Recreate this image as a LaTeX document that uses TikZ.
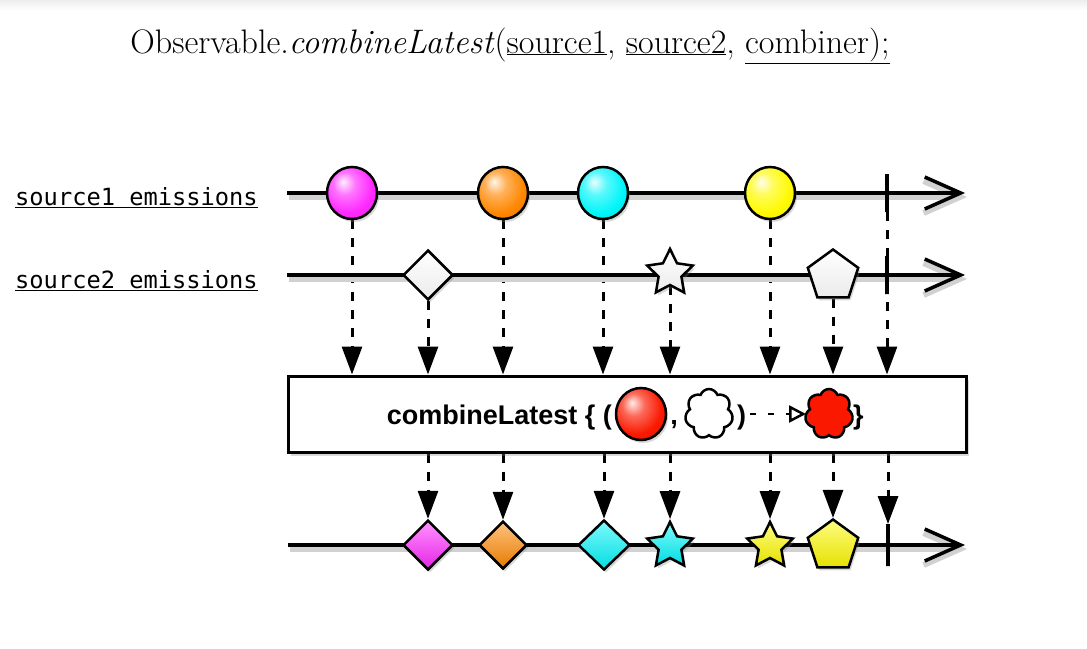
\documentclass[tikz,border=0pt]{standalone}
\usepackage{fontspec}
\newfontfamily\monofnt{DejaVu Sans Mono}
\newfontfamily\boxfnt{Liberation Sans}
\usetikzlibrary{shapes.geometric,shapes.symbols,arrows.meta,shadows}
\pgfdeclarelayer{bg}
\pgfsetlayers{bg,main}
\definecolor{cmag}{RGB}{255,40,255}
\definecolor{corange}{RGB}{255,135,0}
\definecolor{ccyan}{RGB}{0,245,250}
\definecolor{cyellow}{RGB}{255,250,0}
\definecolor{cred}{RGB}{250,25,0}
\makeatletter
\pgfdeclareradialshading[tikz@ball]{shinyball}{\pgfqpoint{-9bp}{11bp}}{%
  color(0bp)=(tikz@ball!8!white);
  color(11bp)=(tikz@ball!65!white);
  color(26bp)=(tikz@ball);
  color(45bp)=(tikz@ball!88!black);
  color(65bp)=(tikz@ball!70!black)}
\makeatother
\tikzset{
  shad/.style={drop shadow={shadow xshift=2pt,shadow yshift=-3pt,opacity=0.3}},
  ball/.style={ellipse, draw=black, line width=2.5pt, minimum width=50pt, minimum height=52pt, inner sep=0pt, shad},
  shiny/.style={ball color=#1, shading=shinyball},
  gem/.style={diamond, draw=black, line width=2.5pt, minimum width=50pt, minimum height=50pt, inner sep=0pt, shad},
  starshape/.style={star, star points=5, star point ratio=2.0, draw=black, line width=2.5pt, minimum size=48pt, inner sep=0pt, shad},
  penta/.style={regular polygon, regular polygon sides=5, draw=black, line width=2.5pt, minimum size=53pt, inner sep=0pt, shad},
  hollow/.style={top color=white, bottom color=black!8},
  tint/.style={top color=#1!50!white, bottom color=#1!90!black},
  endmark/.style={rectangle, draw=black, line width=3.5pt, minimum width=0pt, minimum height=38pt, inner sep=0pt, outer sep=0pt},
  timeline/.style={line width=3.5pt, -{Straight Barb[length=36pt,width=32pt]},
    preaction={draw=black!18, line width=6pt, transform canvas={xshift=2pt,yshift=-4pt}}},
  conn/.style={line width=3pt, dash pattern=on 9pt off 9pt, -{Triangle[length=28pt,width=20pt]}},
  fnbox/.style={rectangle, draw=black, line width=3pt, fill=white, minimum width=678pt, minimum height=76pt, inner sep=0pt,
    drop shadow={shadow xshift=3pt,shadow yshift=-4pt,opacity=0.3}},
  fntext/.style={font=\boxfnt\bfseries\fontsize{27}{30}\selectfont, inner sep=0pt},
  label/.style={font=\monofnt\fontsize{23.7}{28}\selectfont, inner sep=0pt, anchor=base west},
  cloudshape/.style={cloud, cloud puffs=7, cloud puff arc=140, aspect=1, draw=black, line width=2.5pt, minimum width=48pt, minimum height=50pt, inner sep=0pt}
}
\begin{document}
\begin{tikzpicture}[x=1pt,y=-1pt]
\useasboundingbox (0,0) rectangle (1087,648);
\fill[top color=black!7, bottom color=white] (0,0) rectangle (1087,10);

% title
\node[font=\fontsize{34}{40}\selectfont, anchor=base, inner sep=0pt] (title) at (510,53)
  {Observable.\textit{combineLatest}(\underline{source1}, \underline{source2}, \underline{combiner);}};

% labels
\node[label] (lab1) at (15,205) {\underline{source1 emissions}};
\node[label] (lab2) at (15,288) {\underline{source2 emissions}};

% timeline endpoints
\coordinate (l1s) at (287,193); \coordinate (l1e) at (965,193);
\coordinate (l2s) at (287,275); \coordinate (l2e) at (965,275);
\coordinate (l3s) at (288,545); \coordinate (l3e) at (965,545);

% source1 items
\node[ball, shiny=cmag] (c1) at (352,193) {};
\node[ball, shiny=corange] (c2) at (503,193) {};
\node[ball, shiny=ccyan] (c3) at (603,193) {};
\node[ball, shiny=cyellow] (c4) at (770,193) {};
\node[endmark] (t1) at (887,193) {};

% source2 items
\node[gem, hollow] (d1) at (428,275) {};
\node[starshape, hollow] (s1) at (670,273) {};
\node[penta, hollow] (p1) at (833,276) {};
\node[endmark] (t2) at (887,275) {};

% operator box
\node[fnbox] (box) at (627,414) {};
\node[fntext, anchor=base east] (fn) at (612,424) {combineLatest \{ (};
\node[ball, shiny=cred] (rb) at (641,414) {};
\node[fntext, anchor=base] (comma) at (674,424) {,};
\node[cloudshape, fill=white] (wc) at (709,414) {};
\node[fntext, anchor=base west] (rp) at (737,424) {)};
\coordinate (a1) at (750,414);
\coordinate (a2) at (806,414);
\node[cloudshape, fill=cred] (rc) at (829,414) {};
\node[fntext, anchor=base west] (rb2) at (853,424) {\}};

% result items
\node[gem, tint=cmag] (r1) at (428,545) {};
\node[gem, tint=corange, minimum width=48pt, minimum height=48pt] (r2) at (503,545) {};
\node[gem, tint=ccyan, minimum width=52pt] (r3) at (604,545) {};
\node[starshape, tint=ccyan] (r4) at (670,546) {};
\node[starshape, tint=cyellow] (r5) at (770,546) {};
\node[penta, tint=cyellow] (r6) at (833,546) {};
\node[endmark, minimum height=42pt] (t3) at (888,545) {};

\begin{pgfonlayer}{bg}
  % inputs to operator
  \foreach \n in {c1,d1,c2,c3,s1,c4,p1}
    \draw[conn] (\n.south) -- (\n.south |- box.north);
  \draw[conn] (t1.south) -- (t1.south |- box.north);
  % outputs
  \foreach \n in {r1,r2,r3,r4,r5,r6}
    \draw[conn] (\n.north |- box.south) -- (\n.north);
  \draw[conn] (t3.north |- box.south) -- (t3.north);
  % timelines
  \draw[timeline] (l1s) -- (l1e);
  \draw[timeline] (l2s) -- (l2e);
  \draw[timeline] (l3s) -- (l3e);
\end{pgfonlayer}

% arrow inside the box
\draw[line width=2.5pt, dash pattern=on 6pt off 12pt, -{Triangle[open,length=17pt,width=17pt]}] (a1) -- (a2);
\end{tikzpicture}
\end{document}
